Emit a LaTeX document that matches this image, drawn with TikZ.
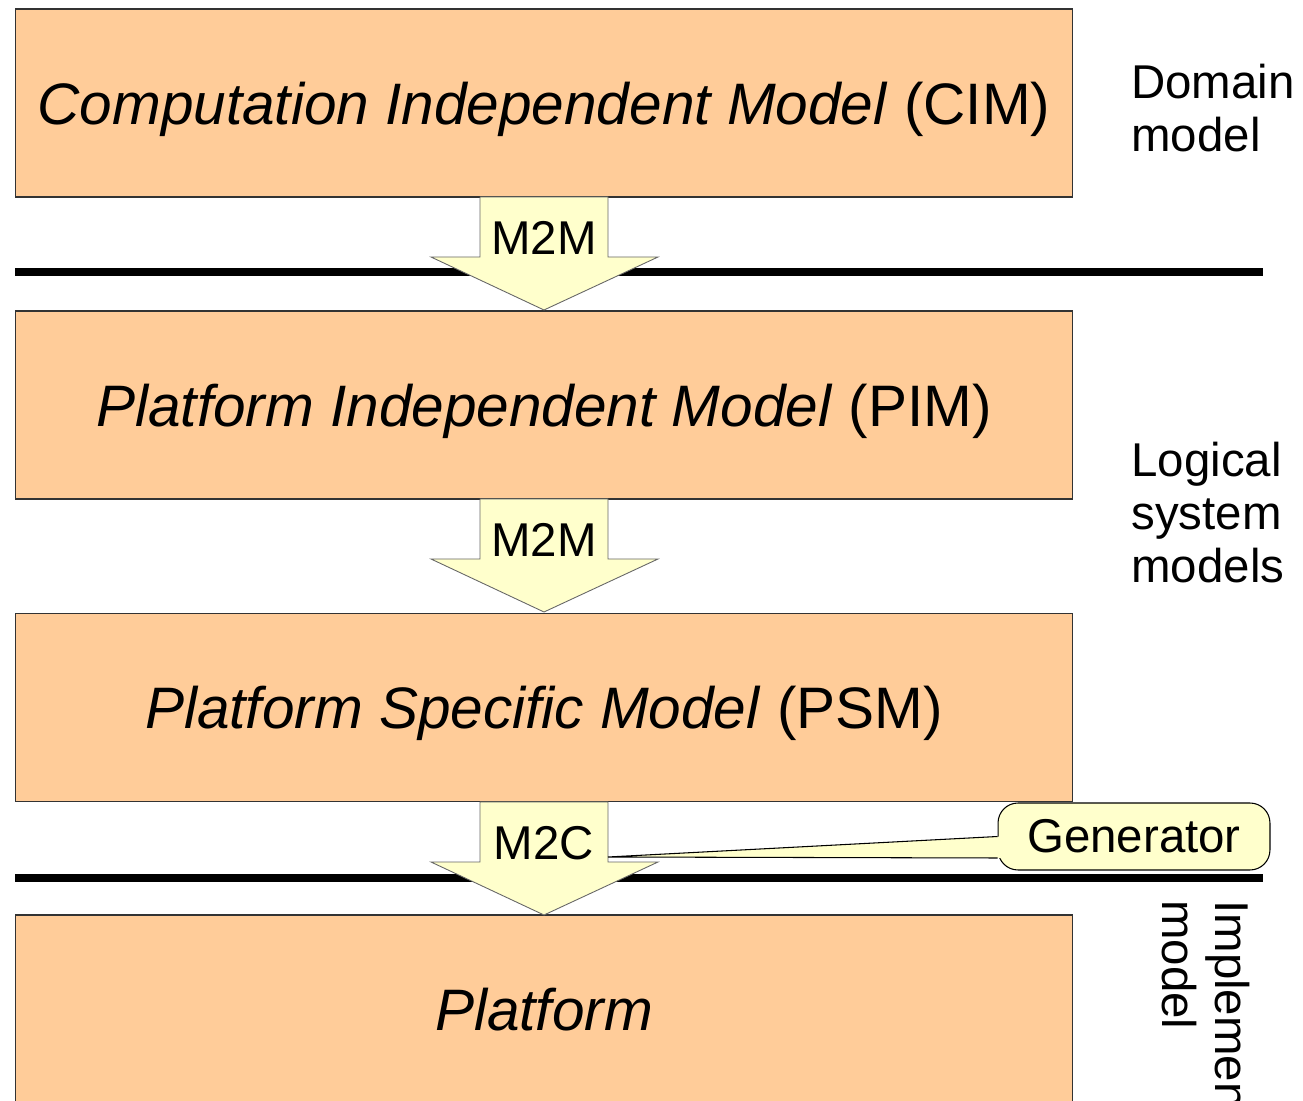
\documentclass[tikz,border=0pt]{standalone}
\usepackage{fontspec}
\setmainfont{Liberation Sans}
\usetikzlibrary{positioning}

\definecolor{layerfill}{HTML}{FFCC99}
\definecolor{notefill}{HTML}{FFFFCC}

\tikzset{
  layer/.style={draw=black!80, line width=0.6pt, fill=layerfill, minimum width=21.16cm, minimum height=3.76cm, text depth=0pt, font=\fontsize{33.3}{40}\selectfont},
  side/.style={anchor=north west, inner sep=0pt, align=left, font=\fontsize{27}{30}\selectfont},
  sepline/.style={line width=4pt},
  blockarrow/.style={draw=black!60, line width=0.5pt, fill=notefill},
}

\begin{document}
\begin{tikzpicture}[x=0.02cm, y=-0.02cm]
\useasboundingbox (0,0) rectangle (1303,1101);

% model layers
\node[layer] (cim) at (544,103) {\textit{Computation Independent Model} (CIM)};
\node[layer] (pim) at (544,405) {\textit{Platform Independent Model} (PIM)};
\node[layer] (psm) at (544,707.5) {\textit{Platform Specific Model} (PSM)};
\node[layer] (platform) at (544,1009) {\textit{Platform}};

% separators
\draw[sepline] (15,272) -- (1263,272);
\draw[sepline] (15,878) -- (1263,878);

% transformations
\foreach \y/\lab/\nm in {197/M2M/mmA, 499/M2M/mmB, 802/M2C/mc} {
  \draw[blockarrow] (480,\y) -- (480,\y+60) -- (431,\y+60) -- (544,\y+113) -- (658,\y+60) -- (608,\y+60) -- (608,\y) -- cycle;
  \node[font=\fontsize{27}{30}\selectfont, inner sep=0pt] (\nm) at (544,\y+41) {\lab};
}

% generator note
\node[draw=black, line width=0.6pt, fill=notefill, rounded corners=0.4cm, minimum width=5.44cm, minimum height=1.34cm, font=\fontsize{27}{30}\selectfont] (gen) at (1134,836.5) {Generator};
\coordinate (gentip) at (608,857);
\fill[notefill] ([xshift=0.1cm]gen.west) -- (gentip) -- ([xshift=0.1cm,yshift=-0.43cm]gen.west) -- cycle;
\draw[line width=0.6pt] (gen.west) -- (gentip) -- ([yshift=-0.43cm]gen.west);

% levels
\node[side] (domain) at (1131,64) {Domain\\model};
\node[side] (logical) at (1131,442) {Logical\\system\\models};
\node[side, rotate=-90] (impl) at (1250,900) {Implementation\\model};
\end{tikzpicture}
\end{document}
